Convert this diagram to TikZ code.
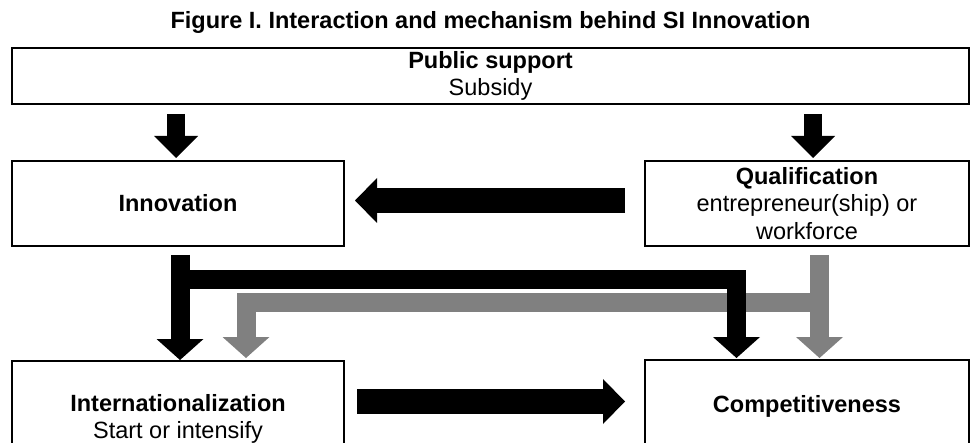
\documentclass[tikz,border=0pt]{standalone}
\usepackage{fontspec}
\setmainfont{Liberation Sans}
\usetikzlibrary{arrows.meta,calc}
\definecolor{arrowgray}{RGB}{128,128,128}
\begin{document}
\begin{tikzpicture}[x=1pt,y=-1pt,
  txt/.style={font=\fontsize{23.5}{27.5}\selectfont},
  box/.style={draw, line width=2pt, inner sep=0pt, align=center, txt},
  blockdown/.style={line width=18pt,
    -{Triangle[width=44pt,length=22pt,line width=0pt]}},
  blockside/.style={line width=25pt,
    -{Triangle[width=45pt,length=22pt,line width=0pt]}},
  lblack/.style={line width=19pt, line join=miter,
    -{Triangle[width=47pt,length=21pt,line width=0pt]}},
  lgray/.style={lblack, draw=arrowgray}]
\useasboundingbox (0,0) rectangle (971,443);
\clip (0,0) rectangle (971,443);

% title
\node[anchor=base, font=\bfseries\fontsize{23.5}{27}\selectfont] (title)
  at (490.5,28.5) {Figure I. Interaction and mechanism behind SI Innovation};

% boxes
\node[box, minimum width=957pt, minimum height=56pt] (pub) at (490.5,76)
  {\textbf{Public support}\\Subsidy};
\node[box, minimum width=332pt, minimum height=85pt] (inn) at (178,203.5)
  {\textbf{Innovation}};
\node[box, minimum width=324pt, minimum height=85pt] (qual) at (807,203.5)
  {\textbf{Qualification}\\entrepreneur(ship) or\\workforce};
\node[box, minimum width=332pt, minimum height=116pt, anchor=north] (intl) at (178,360)
  {\textbf{Internationalization}\\Start or intensify};
\node[box, minimum width=324pt, minimum height=92pt, anchor=north] (comp) at (807,359)
  {\textbf{Competitiveness}};

% stations of the block arrows
\coordinate (xa) at (176,0);
\coordinate (xb) at (813,0);
\coordinate (xc) at (180,0);
\coordinate (xd) at (736.5,0);
\coordinate (xe) at (246,0);
\coordinate (xf) at (819.5,0);
\coordinate (ya) at (0,200.5);
\coordinate (yb) at (0,401.5);
\coordinate (yc) at (0,280);
\coordinate (yd) at (0,303);

% public support feeds innovation and qualification
\draw[blockdown] ($(pub.south -| xa)+(0,9)$) -- ($(inn.north -| xa)+(0,-2)$);
\draw[blockdown] ($(pub.south -| xb)+(0,9)$) -- ($(qual.north -| xb)+(0,-2)$);

% qualification -> innovation, internationalization -> competitiveness
\draw[blockside] ($(qual.west |- ya)+(-19,0)$) -- ($(inn.east |- ya)+(10,0)$);
\draw[blockside] ($(intl.east |- yb)+(12,0)$) -- ($(comp.west |- yb)+(-19,0)$);

% qualification branches (gray)
\draw[lgray] ($(qual.south -| xf)+(0,8)$) -- ($(comp.north -| xf)+(0,-1)$);
\draw[lgray] (xf |- yd) -- (xe |- yd) -- ($(intl.north -| xe)+(0,-2)$);

% innovation branches (black)
\draw[lblack] ($(inn.south -| xc)+(0,8)$) -- (intl.north -| xc);
\draw[lblack] (xc |- yc) -- (xd |- yc) -- ($(comp.north -| xd)+(0,-1)$);
\end{tikzpicture}
\end{document}
